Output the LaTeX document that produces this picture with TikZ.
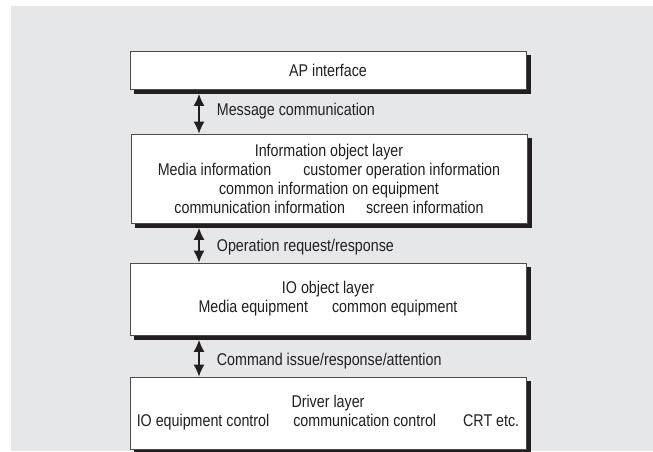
\documentclass[tikz,border=0pt]{standalone}
\usepackage{fontspec}
\setmainfont{Liberation Sans}[FakeStretch=0.84]
\usetikzlibrary{arrows.meta}
\definecolor{panel}{HTML}{E6E7E8}
\definecolor{ink}{HTML}{231F20}
\definecolor{rim}{HTML}{4D4D4F}
\tikzset{
  tier/.style={draw=rim, line width=0.9pt, fill=white, minimum width=396pt,
    inner sep=0pt, align=center, text=ink,
    font=\fontsize{17}{19}\selectfont},
  link/.style={draw=ink, line width=1.1pt, {Latex[length=12pt,width=11pt]}-{Latex[length=12pt,width=11pt]}},
  linklabel/.style={anchor=base west, inner sep=0pt, text=ink, font=\fontsize{17}{19}\selectfont}
}
% solid shadow strips along the right and bottom sides of a box
\newcommand{\tiershadow}[1]{%
  \fill[ink] ([shift={(0.4,4.5)}]#1.north east) rectangle ([shift={(4.5,4.5)}]#1.south east);
  \fill[ink] ([shift={(4.5,0.4)}]#1.south west) rectangle ([shift={(4.5,4.5)}]#1.south east);}
\begin{document}
\begin{tikzpicture}[x=1pt,y=-1pt]
  \useasboundingbox (0,0) rectangle (653,451);
  \fill[panel] (11,6) rectangle (653,451);

  % the four layers, top to bottom
  \node[tier, minimum height=38pt] (ap) at (328,70) {AP interface};
  \node[tier, minimum height=89pt] (info) at (329,178.5)
    {Information object layer\\
     Media information\hspace{32pt}customer operation information\\
     common information on equipment\\
     communication information\hspace{21pt}screen information};
  \node[tier, minimum height=72pt] (io) at (328,299)
    {IO object layer\\
     Media equipment\hspace{24pt}common equipment};
  \node[tier, minimum height=72pt] (drv) at (328,413)
    {Driver layer\\
     IO equipment control\hspace{24pt}communication control\hspace{27pt}CRT etc.};
  \tiershadow{ap}
  \tiershadow{info}
  \tiershadow{io}
  \tiershadow{drv}

  % two-way links between neighbouring layers
  \coordinate (lx) at (199,0);
  \draw[link, shorten <=4.5pt] (ap.south -| lx) -- (info.north -| lx);
  \draw[link, shorten <=4.5pt] (info.south -| lx) -- (io.north -| lx);
  \draw[link, shorten <=4.5pt] (io.south -| lx) -- (drv.north -| lx);

  \node[linklabel] (m1) at (216.7,115.7) {Message communication};
  \node[linklabel] (m2) at (216.7,251.7) {Operation request/response};
  \node[linklabel] (m3) at (216.7,365) {Command issue/response/attention};
\end{tikzpicture}
\end{document}
